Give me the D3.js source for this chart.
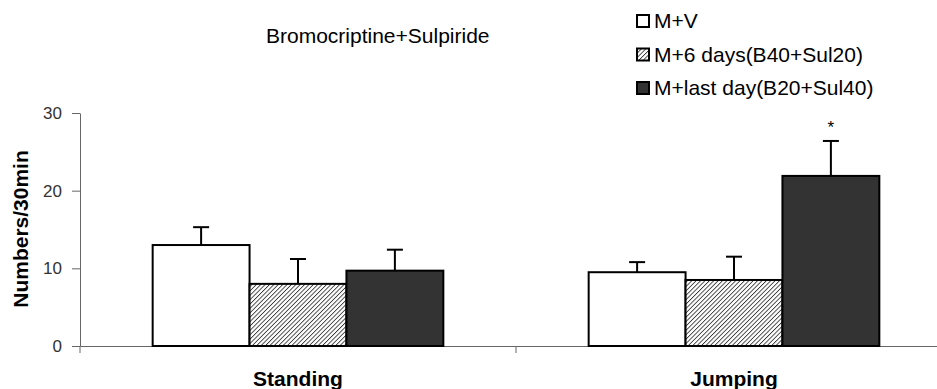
<!DOCTYPE html>
<html>
<head>
<meta charset="utf-8">
<script src="https://cdn.jsdelivr.net/npm/d3@7"></script>
<style>
  html, body { margin: 0; padding: 0; background: #fff; }
  svg { display: block; font-family: "Liberation Sans", Arial, sans-serif; }
</style>
</head>
<body>
<svg id="chart" width="937" height="389"></svg>
<script>
const categories = ["Standing", "Jumping"];
const seriesNames = ["M+V", "M+6 days(B40+Sul20)", "M+last day(B20+Sul40)"];
const meanStanding = [13.0, 8.0, 9.7];
const meanJumping = [9.5, 8.5, 21.9];
const errStanding = [2.3, 3.2, 2.7];
const errJumping = [1.3, 3.0, 4.5];
const yTicks = [0, 10, 20, 30];
const significance = [["", "", ""], ["", "", "*"]];
const titleText = "Bromocriptine+Sulpiride";
const yLabel = "Numbers/30min";

const means = [meanStanding, meanJumping];
const errs = [errStanding, errJumping];

const svg = d3.select("#chart");
const defs = svg.append("defs");
const P = 3.1;
const pat = defs.append("pattern")
  .attr("id", "hatch").attr("patternUnits", "userSpaceOnUse")
  .attr("width", P).attr("height", P)
  .attr("patternTransform", "rotate(45)");
pat.append("rect").attr("width", P).attr("height", P).attr("fill", "#fff");
pat.append("line").attr("x1", 0).attr("y1", 0).attr("x2", 0).attr("y2", P)
  .attr("stroke", "#333").attr("stroke-width", 1.7);

const fills = ["#ffffff", "url(#hatch)", "#333333"];

const x0 = d3.scaleBand().domain(categories).range([80, 952]).paddingInner(0).paddingOuter(0);
const x1 = d3.scaleBand().domain(seriesNames).range([0, x0.bandwidth()]).paddingInner(0).paddingOuter(0.75);
const y = d3.scaleLinear().domain([0, 30]).range([346, 113]);

// axes
const yAxis = svg.append("g").attr("transform", "translate(80,0)")
  .call(d3.axisLeft(y).tickValues(yTicks).tickSize(8).tickPadding(10).tickSizeOuter(0));
yAxis.select(".domain").attr("stroke", "#666");
yAxis.selectAll(".tick line").attr("stroke", "#666");
yAxis.selectAll(".tick text").attr("font-size", 17).attr("fill", "#333")
  .attr("font-family", "'Liberation Sans', Arial, sans-serif");

const xAxis = svg.append("g").attr("transform", "translate(0,346)")
  .call(d3.axisBottom(x0).tickSize(0).tickSizeOuter(0).tickFormat(""));
xAxis.select(".domain").attr("stroke", "#666");
xAxis.selectAll(".tick").remove();
const boundaries = [x0.range()[0], x0(categories[1])];
svg.append("g").selectAll("line").data(boundaries).join("line")
  .attr("x1", d => d).attr("x2", d => d)
  .attr("y1", 346).attr("y2", 353).attr("stroke", "#666");

// bars
const groups = svg.append("g").selectAll("g").data(categories).join("g")
  .attr("transform", d => `translate(${x0(d)},0)`);

groups.each(function(cat, ci) {
  const g = d3.select(this);
  seriesNames.forEach((s, si) => {
    const v = means[ci][si], e = errs[ci][si];
    const bx = x1(s), bw = x1.bandwidth();
    g.append("line")
      .attr("x1", bx + bw / 2).attr("x2", bx + bw / 2)
      .attr("y1", y(v)).attr("y2", y(v + e))
      .attr("stroke", "#000").attr("stroke-width", 2);
    g.append("line")
      .attr("x1", bx + bw / 2 - 8).attr("x2", bx + bw / 2 + 8)
      .attr("y1", y(v + e)).attr("y2", y(v + e))
      .attr("stroke", "#000").attr("stroke-width", 2);
    g.append("rect")
      .attr("x", bx).attr("y", y(v))
      .attr("width", bw).attr("height", y(0) - y(v))
      .attr("fill", fills[si]).attr("stroke", "#000").attr("stroke-width", 2);
    if (significance[ci][si]) {
      g.append("text")
        .attr("x", bx + bw / 2).attr("y", y(v + e) - 8)
        .attr("text-anchor", "middle").attr("font-size", 17)
        .text(significance[ci][si]);
    }
  });
});

// category labels
svg.append("g").selectAll("text").data(categories).join("text")
  .attr("x", d => x0(d) + x1(seriesNames[1]) + x1.bandwidth() / 2)
  .attr("y", 386)
  .attr("text-anchor", "middle").attr("font-size", 21).attr("font-weight", "bold")
  .text(d => d);

// y label
svg.append("text")
  .attr("transform", "translate(28,229) rotate(-90)")
  .attr("text-anchor", "middle").attr("font-size", 21).attr("font-weight", "bold")
  .text(yLabel);

// title
svg.append("text").attr("x", 266).attr("y", 43)
  .attr("font-size", 21)
  .text(titleText);

// legend
const legend = svg.append("g").selectAll("g").data(seriesNames).join("g")
  .attr("transform", (d, i) => `translate(637,${28 + i * 33.5})`);
legend.append("rect").attr("x", 0).attr("y", -13).attr("width", 12).attr("height", 12)
  .attr("fill", (d, i) => fills[i]).attr("stroke", "#000").attr("stroke-width", 2);
legend.append("text").attr("x", 17).attr("y", 0)
  .attr("font-size", 21).text(d => d);
</script>
</body>
</html>
